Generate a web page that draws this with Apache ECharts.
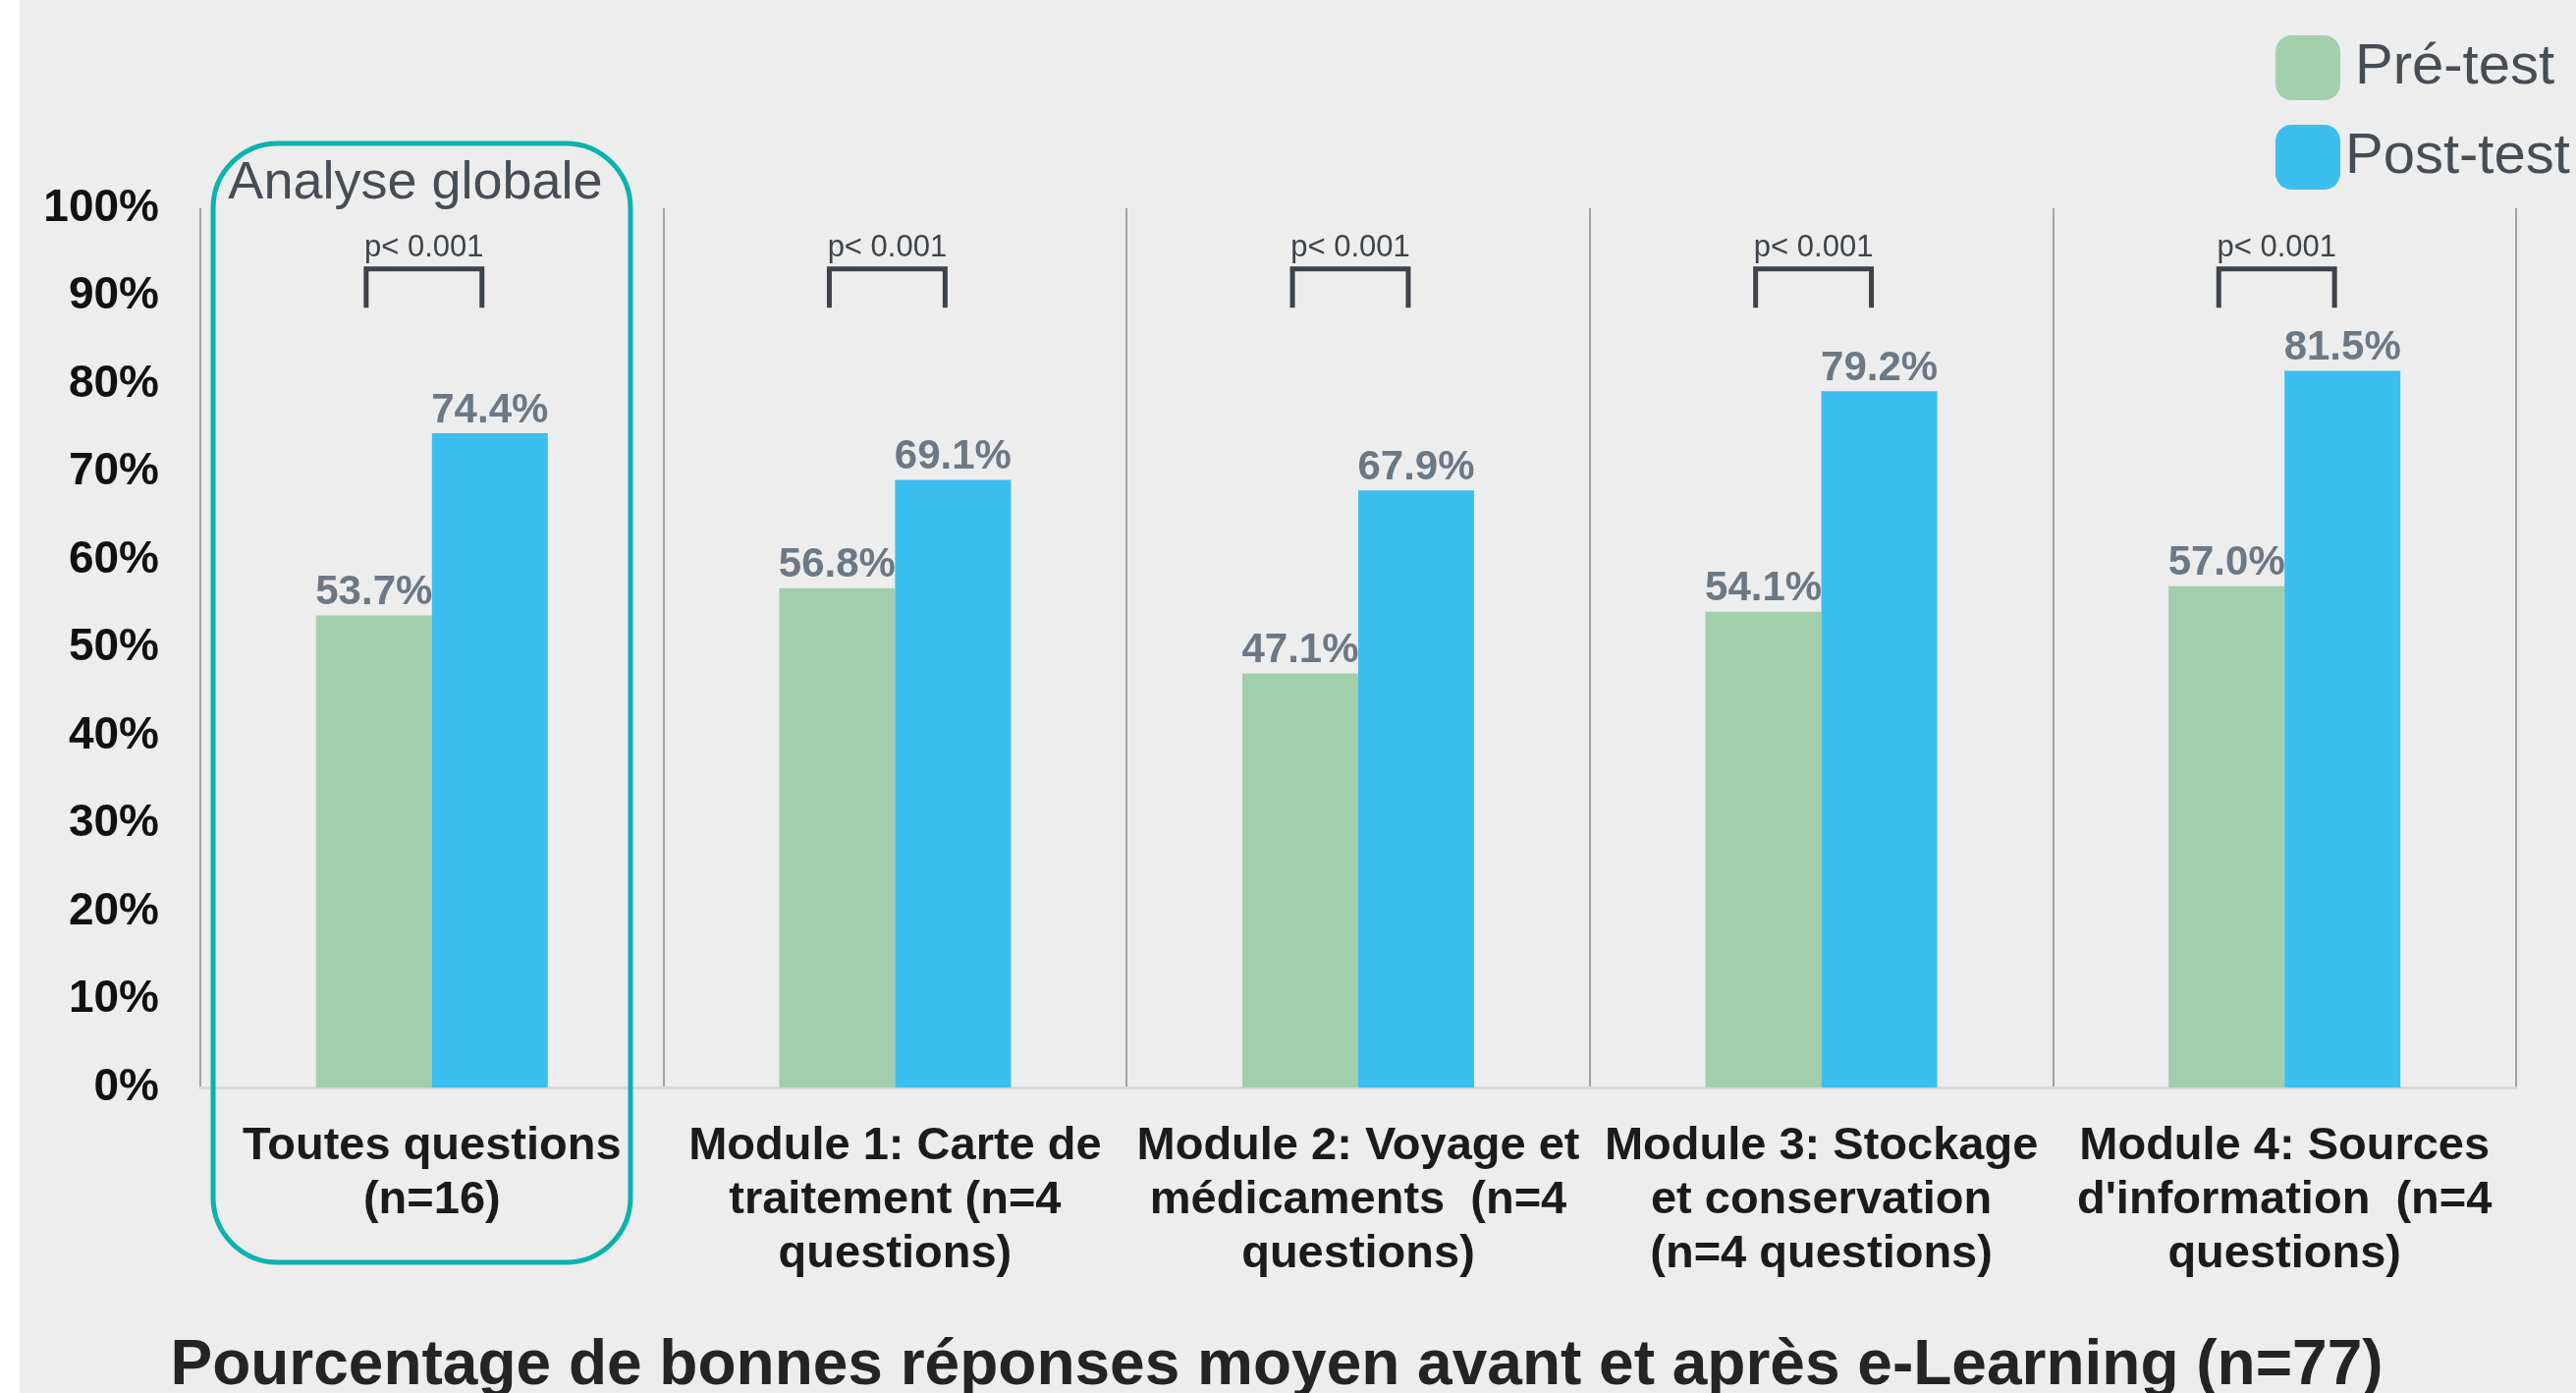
<!DOCTYPE html>
<html>
<head>
<meta charset="utf-8">
<script src="https://cdn.jsdelivr.net/npm/echarts@6/dist/echarts.min.js"></script>
<style>
  html, body { margin: 0; padding: 0; background: #ffffff; }
  #main { width: 2623px; height: 1418px; }
</style>
</head>
<body>
<div id="main"></div>
<script>
// categories (axis labels)
const categories = [
    'Toutes questions\n(n=16)',
    'Module 1: Carte de\ntraitement (n=4\nquestions)',
    'Module 2: Voyage et\nmédicaments  (n=4\nquestions)',
    'Module 3: Stockage\net conservation\n(n=4 questions)',
    'Module 4: Sources\nd\'information  (n=4\nquestions)'
];
// % of correct answers
const preTest = [53.7, 56.8, 47.1, 54.1, 57.0];
const postTest = [74.4, 69.1, 67.9, 79.2, 81.5];
const pValues = ['p< 0.001', 'p< 0.001', 'p< 0.001', 'p< 0.001', 'p< 0.001'];
const seriesNames = ['Pré-test', 'Post-test'];

const FONT = '"Liberation Sans", Arial, sans-serif';
const GREEN = '#a1cfab';
const BLUE = '#3cbeef';

let myChart = echarts.init(document.getElementById('main'));

myChart.setOption({
    backgroundColor: '#ededed',
    textStyle: {fontFamily: FONT},
    animation: false,
    title: {
        text: 'Pourcentage de bonnes réponses moyen avant et après e-Learning (n=77)',
        left: 1295,
        top: 1353,
        textAlign: 'center',
        textStyle: {
            fontFamily: FONT,
            fontSize: 64,
            fontWeight: 'bold',
            color: '#222426',
            lineHeight: 66
        }
    },
    legend: {
        data: [
            {name: seriesNames[0], textStyle: {padding: [0, 0, 0, 10]}},
            {name: seriesNames[1], textStyle: {padding: [0, 0, 0, 0]}}
        ],
        orient: 'vertical',
        left: 2317,
        top: 36,
        padding: 0,
        itemWidth: 66,
        itemHeight: 66,
        itemGap: 25,
        icon: 'roundRect',
        textStyle: {
            fontFamily: FONT,
            fontSize: 58,
            color: '#474d54'
        }
    },
    grid: {
        left: 204,
        right: 61,
        top: 212,
        bottom: 311,
        containLabel: false
    },
    xAxis: {
        type: 'category',
        data: categories,
        axisTick: {show: false},
        axisLine: {
            show: true,
            lineStyle: {color: '#d9d9d9', width: 3}
        },
        splitLine: {
            show: true,
            interval: 0,
            lineStyle: {color: '#a3a3a3', width: 2}
        },
        axisLabel: {
            interval: 0,
            margin: 33,
            fontFamily: FONT,
            fontSize: 47,
            fontWeight: 'bold',
            lineHeight: 55,
            color: '#1b1b1b'
        }
    },
    yAxis: {
        type: 'value',
        min: 0,
        max: 100,
        interval: 10,
        splitLine: {show: false},
        axisLine: {show: false},
        axisTick: {show: false},
        axisLabel: {
            margin: 42,
            fontFamily: FONT,
            fontSize: 46,
            fontWeight: 'bold',
            color: '#111111',
            verticalAlign: 'middle',
            padding: [6, 0, 0, 0],
            formatter: '{value}%'
        }
    },
    graphic: [
        {
            type: 'rect',
            left: 0, top: 0,
            shape: {width: 20, height: 1418},
            style: {fill: '#ffffff'},
            silent: true
        },
        {
            type: 'rect',
            shape: {x: 217, y: 146, width: 425, height: 1139, r: 66},
            style: {fill: null, stroke: '#0cb2ad', lineWidth: 5},
            z: 10,
            silent: true
        },
        {
            type: 'text',
            x: 423, y: 187,
            style: {
                text: 'Analyse globale',
                fontFamily: FONT,
                fontSize: 54,
                fill: '#474d54',
                align: 'center',
                verticalAlign: 'middle'
            },
            z: 10,
            silent: true
        }
    ],
    series: [
        {
            name: seriesNames[0],
            type: 'bar',
            data: preTest,
            barWidth: 118,
            barGap: '0%',
            itemStyle: {color: GREEN},
            label: {
                show: true,
                position: 'top',
                distance: 2,
                fontFamily: FONT,
                fontSize: 42,
                fontWeight: 'bold',
                color: '#6c7884',
                formatter: p => p.value.toFixed(1) + '%'
            }
        },
        {
            name: seriesNames[1],
            type: 'bar',
            data: postTest,
            barWidth: 118,
            barGap: '0%',
            itemStyle: {color: BLUE},
            label: {
                show: true,
                position: 'top',
                distance: 2,
                fontFamily: FONT,
                fontSize: 42,
                fontWeight: 'bold',
                color: '#6c7884',
                formatter: p => p.value.toFixed(1) + '%'
            }
        },
        {
            // significance brackets
            type: 'custom',
            clip: false,
            silent: true,
            data: pValues.map((p, i) => [i, p]),
            renderItem: function (params, api) {
                const i = api.value(0);
                const half = api.size([1, 0])[0] * 0.125;
                const top = api.coord([i, 93.1]);
                const bottom = api.coord([i, 88.7])[1];
                const textY = api.coord([i, 95.5])[1];
                // brackets sit a little left of the category centre
                const x = top[0] - 8;
                return {
                    type: 'group',
                    children: [
                        {
                            type: 'polyline',
                            shape: {points: [[x - half, bottom], [x - half, top[1]], [x + half, top[1]], [x + half, bottom]]},
                            style: {stroke: '#3d4349', lineWidth: 5, fill: null}
                        },
                        {
                            type: 'text',
                            x: x,
                            y: textY,
                            style: {
                                text: pValues[i],
                                fontFamily: FONT,
                                fontSize: 31,
                                fill: '#3d4349',
                                align: 'center',
                                verticalAlign: 'middle'
                            }
                        }
                    ]
                };
            }
        }
    ]
});
</script>
</body>
</html>
